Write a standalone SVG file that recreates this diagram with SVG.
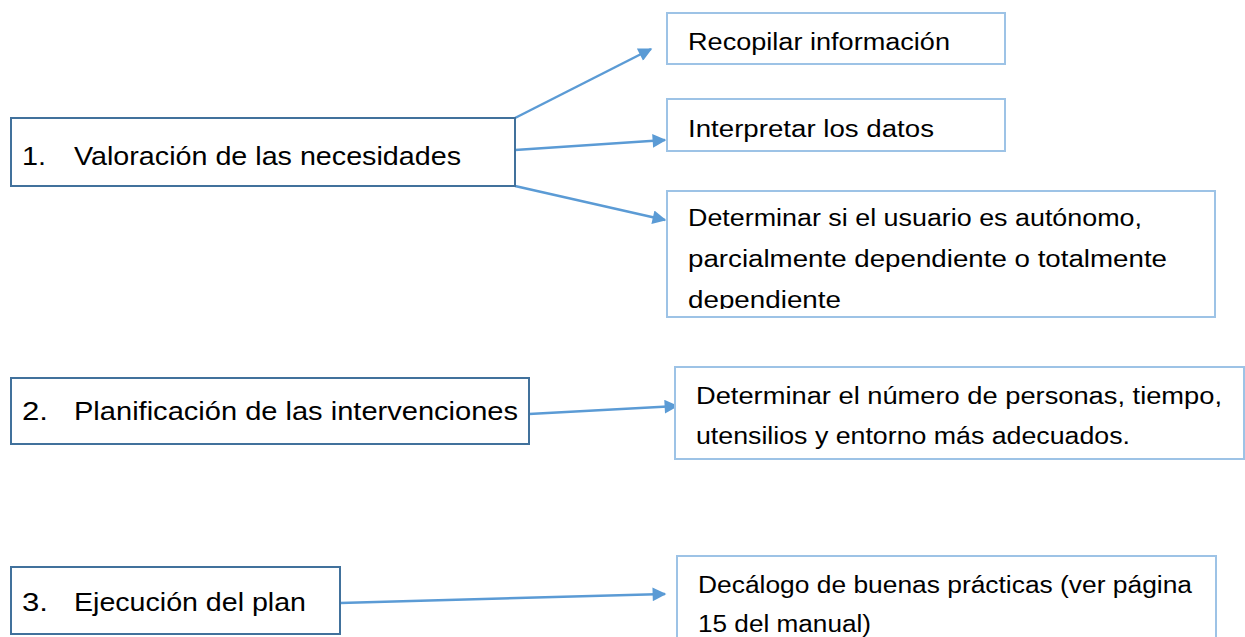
<svg xmlns="http://www.w3.org/2000/svg" width="1245" height="637" viewBox="0 0 1245 637">
<style>
.main{fill:#fff;stroke:#41719C;stroke-width:2}
.sub{fill:#fff;stroke:#9DC3E6;stroke-width:2}
.t{font-family:"Liberation Sans","DejaVu Sans",sans-serif;fill:#000}
.tl{font-size:26px}
.ts{font-size:23.5px}
.c{stroke:#5B9BD5;stroke-width:2.5;fill:none;marker-end:url(#ah)}
</style>
<defs>
<marker id="ah" viewBox="0 0 10 10" refX="9" refY="5" markerWidth="6.5" markerHeight="5.5" orient="auto" markerUnits="strokeWidth">
<path d="M0,0 L10,5 L0,10 z" fill="#5B9BD5"/>
</marker>
<clipPath id="cl3"><rect x="667" y="191" width="548" height="118"/></clipPath>
</defs>
<g id="connectors">
<line class="c" x1="515" y1="118" x2="651" y2="49"/>
<line class="c" x1="515" y1="150" x2="665" y2="140"/>
<line class="c" x1="515" y1="186" x2="665" y2="220"/>
<line class="c" x1="529" y1="414" x2="677" y2="406"/>
<line class="c" x1="340" y1="603" x2="665" y2="594"/>
</g>
<g id="n1">
<rect class="main" x="11" y="118" width="504" height="68"/>
<text class="t tl" x="22" y="165" textLength="24" lengthAdjust="spacingAndGlyphs">1.</text>
<text class="t tl" x="74" y="165" textLength="387" lengthAdjust="spacingAndGlyphs">Valoración de las necesidades</text>
</g>
<g id="n1a">
<rect class="sub" x="667" y="13" width="338" height="51"/>
<text class="t ts" x="688" y="50" textLength="262" lengthAdjust="spacingAndGlyphs">Recopilar información</text>
</g>
<g id="n1b">
<rect class="sub" x="667" y="99" width="338" height="52"/>
<text class="t ts" x="688" y="137" textLength="246" lengthAdjust="spacingAndGlyphs">Interpretar los datos</text>
</g>
<g id="n1c">
<rect class="sub" x="667" y="191" width="548" height="126"/>
<g clip-path="url(#cl3)">
<text class="t ts" x="688" y="226" textLength="454" lengthAdjust="spacingAndGlyphs">Determinar si el usuario es autónomo,</text>
<text class="t ts" x="688" y="267" textLength="479" lengthAdjust="spacingAndGlyphs">parcialmente dependiente o totalmente</text>
<text class="t ts" x="688" y="308" textLength="153" lengthAdjust="spacingAndGlyphs">dependiente</text>
</g>
</g>
<g id="n2">
<rect class="main" x="11" y="378" width="518" height="66"/>
<text class="t tl" x="22" y="420" textLength="26" lengthAdjust="spacingAndGlyphs">2.</text>
<text class="t tl" x="74" y="420" textLength="444" lengthAdjust="spacingAndGlyphs">Planificación de las intervenciones</text>
</g>
<g id="n2a">
<rect class="sub" x="675" y="367" width="569" height="92"/>
<text class="t ts" x="696" y="404" textLength="526" lengthAdjust="spacingAndGlyphs">Determinar el número de personas, tiempo,</text>
<text class="t ts" x="696" y="444" textLength="434" lengthAdjust="spacingAndGlyphs">utensilios y entorno más adecuados.</text>
</g>
<g id="n3">
<rect class="main" x="11" y="567" width="329" height="67"/>
<text class="t tl" x="22" y="611" textLength="26" lengthAdjust="spacingAndGlyphs">3.</text>
<text class="t tl" x="74" y="611" textLength="232" lengthAdjust="spacingAndGlyphs">Ejecución del plan</text>
</g>
<g id="n3a">
<rect class="sub" x="677" y="556" width="539" height="90"/>
<text class="t ts" x="698" y="593" textLength="494" lengthAdjust="spacingAndGlyphs">Decálogo de buenas prácticas (ver página</text>
<text class="t ts" x="698" y="632" textLength="173" lengthAdjust="spacingAndGlyphs">15 del manual)</text>
</g>
</svg>
